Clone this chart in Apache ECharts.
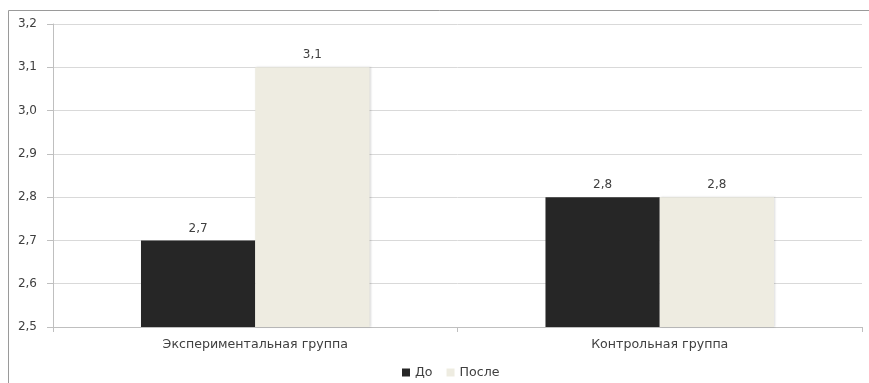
<!DOCTYPE html>
<html><head><meta charset="utf-8">
<script src="https://cdn.jsdelivr.net/npm/echarts@6/dist/echarts.min.js"></script>
<style>html,body{margin:0;padding:0;background:#fff}#c{width:869px;height:383px}</style>
</head><body><div id="c"></div>
<script>
const categories = ['Экспериментальная группа', 'Контрольная группа'];
const seriesNames = ['До', 'После'];
const valuesBefore = [2.7, 2.8];
const valuesAfter = [3.1, 2.8];
const yMin = 2.5, yMax = 3.2, yStep = 0.1;

const chart = echarts.init(document.getElementById('c'));
const font = '"DejaVu Sans", Verdana, sans-serif';
const fmt = v => (typeof v === 'number' ? v : v.value).toFixed(1).replace('.', ',');
chart.setOption({
  animation: false,
  textStyle: {fontFamily: font},
  graphic: [{type: 'rect', shape: {x: 8.5, y: 10.5, width: 870, height: 390}, style: {fill: 'none', stroke: '#9a9a9a', lineWidth: 1}, silent: true}],
  grid: {left: 53, right: 7, top: 24, bottom: 56},
  legend: {top: 361, left: 397, itemWidth: 8, itemHeight: 8, itemGap: 14, icon: 'rect',
    itemStyle: {borderWidth: 0},
    textStyle: {fontSize: 12.6, color: '#404040', fontFamily: font}, data: seriesNames},
  xAxis: {type: 'category', data: categories,
    axisLine: {lineStyle: {color: '#bfbfbf'}},
    axisTick: {show: true, alignWithLabel: false, length: 5, lineStyle: {color: '#bfbfbf'}},
    axisLabel: {color: '#404040', fontSize: 12.6, margin: 11, fontFamily: font}},
  yAxis: {type: 'value', min: yMin, max: yMax, interval: yStep,
    axisLine: {show: true, lineStyle: {color: '#bfbfbf'}},
    axisTick: {show: true, length: 6, lineStyle: {color: '#bfbfbf'}},
    splitLine: {lineStyle: {color: '#d9d9d9'}},
    axisLabel: {color: '#404040', fontSize: 12, margin: 16, formatter: v => v.toFixed(1).replace('.', ','), fontFamily: font}},
  series: [
    {name: seriesNames[0], type: 'bar', data: valuesBefore, barGap: '0%', barCategoryGap: '43.5%',
     itemStyle: {color: '#262626'},
     label: {show: true, position: 'top', distance: 6, color: '#404040', fontSize: 12, formatter: p => fmt(p.value)}},
    {name: seriesNames[1], type: 'bar', data: valuesAfter, barGap: '0%', barCategoryGap: '43.5%',
     itemStyle: {color: '#eeece1', shadowColor: 'rgba(0,0,0,0.15)', shadowBlur: 2, shadowOffsetX: 1, shadowOffsetY: 0},
     label: {show: true, position: 'top', distance: 6, color: '#404040', fontSize: 12, formatter: p => fmt(p.value)}}
  ]
});
</script></body></html>
